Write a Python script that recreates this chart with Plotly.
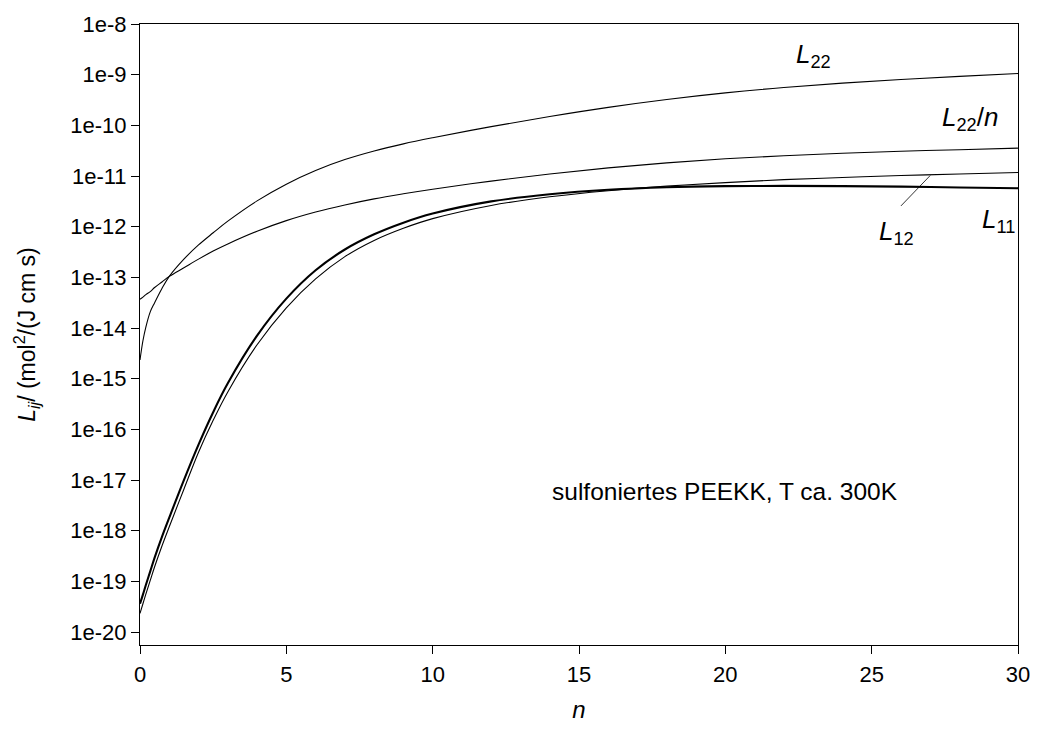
import plotly.graph_objects as go

# water content n (molecules per sulfonic acid group)
n = [0, 0.1, 0.2, 0.35, 0.5, 0.75, 1, 1.5, 2, 2.5, 3, 4, 5, 6, 7, 8, 9, 10,
     12, 14, 16, 18, 20, 22, 24, 26, 28, 30]

# transport coefficients, stored as log10 of L_ij in mol^2/(J cm s)
log_L22 = [-14.63, -14.25, -13.98, -13.68, -13.50, -13.22, -12.98, -12.64, -12.36,
           -12.12, -11.89, -11.49, -11.16, -10.89, -10.675, -10.505, -10.365, -10.245,
           -10.025, -9.825, -9.645, -9.49, -9.36, -9.253, -9.167, -9.095, -9.033, -8.977]
log_L22n = [-13.43, -13.39, -13.34, -13.28, -13.20, -13.09, -12.98, -12.81, -12.64,
            -12.48, -12.34, -12.09, -11.88, -11.71, -11.57, -11.45, -11.35, -11.26,
            -11.10, -10.96, -10.84, -10.74, -10.66, -10.60, -10.55, -10.51, -10.48, -10.45]
log_L11 = [-19.44, -19.26, -19.07, -18.80, -18.53, -18.12, -17.74, -17.00, -16.30,
           -15.66, -15.09, -14.15, -13.42, -12.86, -12.45, -12.15, -11.92, -11.74,
           -11.50, -11.36, -11.27, -11.22, -11.20, -11.195, -11.20, -11.21, -11.225, -11.24]
log_L12 = [-19.63, -19.44, -19.25, -18.98, -18.71, -18.30, -17.92, -17.18, -16.45,
           -15.82, -15.26, -14.33, -13.60, -13.03, -12.59, -12.27, -12.03, -11.84,
           -11.58, -11.41, -11.29, -11.20, -11.13, -11.07, -11.03, -10.99, -10.96, -10.93]

# y-axis decades and their labels
y_exponents = list(range(-20, -7))
y_ticktext = ["1e%d" % e for e in y_exponents]
x_ticks = [0, 5, 10, 15, 20, 25, 30]

# leader line from the L12 curve to its label (n, log10 L)
leader_n = [27.0, 26.0]
leader_log = [-10.99, -11.59]

FONT = "Liberation Sans, Arial, sans-serif"


def lin(vals):
    return [10 ** v for v in vals]


fig = go.Figure()
for name, vals, width in [("L22", log_L22, 1.1), ("L22/n", log_L22n, 1.1),
                          ("L12", log_L12, 1.1), ("L11", log_L11, 2.1)]:
    fig.add_trace(go.Scatter(x=n, y=lin(vals), mode="lines", name=name,
                             line=dict(color="black", width=width,
                                       shape="spline", smoothing=1.0),
                             showlegend=False, hoverinfo="skip"))

fig.add_trace(go.Scatter(x=leader_n, y=lin(leader_log), mode="lines",
                         line=dict(color="black", width=0.8),
                         showlegend=False, hoverinfo="skip"))

labels = [
    ("<i>L</i><sub>22</sub>", 23.0, -8.62),
    ("<i>L</i><sub>22</sub>/<i>n</i>", 28.35, -9.87),
    ("<i>L</i><sub>12</sub>", 25.85, -12.11),
    ("<i>L</i><sub>11</sub>", 29.35, -11.88),
]
for text, x, y in labels:
    fig.add_annotation(x=x, y=y, text=text, showarrow=False,
                       font=dict(family=FONT, size=26, color="black"))

fig.add_annotation(x=20.0, y=-17.22, text="sulfoniertes PEEKK, T ca. 300K",
                   showarrow=False, font=dict(family=FONT, size=24.5, color="black"))

fig.update_layout(
    width=1042, height=730,
    margin=dict(l=140, r=17, t=21, b=83),
    paper_bgcolor="white", plot_bgcolor="white",
    font=dict(family=FONT, size=22, color="black"),
)
fig.update_xaxes(
    range=[0, 30], tickvals=x_ticks, ticks="outside", ticklen=8, tickwidth=1,
    tickcolor="black", showline=True, linecolor="black", linewidth=1, mirror=True,
    showgrid=False, zeroline=False, tickfont=dict(size=22), ticklabelstandoff=2,
    title=dict(text="<i>n</i>", font=dict(size=24), standoff=14),
)
fig.update_yaxes(
    type="log", range=[-20.254, -8], tickvals=lin(y_exponents), ticktext=y_ticktext,
    ticks="outside", ticklen=8, tickwidth=1, tickcolor="black",
    showline=True, linecolor="black", linewidth=1, mirror=True,
    showgrid=False, zeroline=False, tickfont=dict(size=22),
    title=dict(text="<i>L<sub>ij</sub></i>/ (mol<sup>2</sup>/(J cm s)",
               font=dict(size=23), standoff=28),
)

fig.write_html("out.html")
